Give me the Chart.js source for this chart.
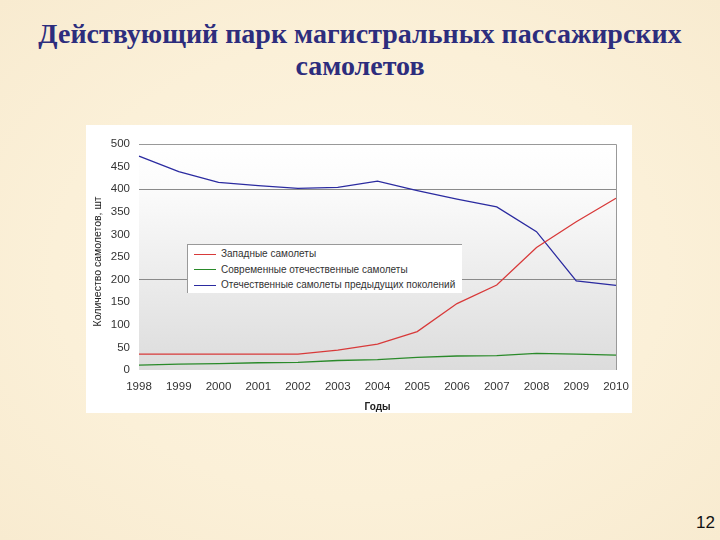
<!DOCTYPE html>
<html>
<head>
<meta charset="utf-8">
<script src="https://cdn.jsdelivr.net/npm/chart.js@4"></script>
<style>
  html, body { margin: 0; padding: 0; }
  body {
    width: 720px; height: 540px; position: relative; overflow: hidden;
    background: radial-gradient(ellipse at 50% 50%, #fdf4e0 0%, #fbf0d8 60%, #f8ebd0 100%);
    font-family: "Liberation Sans", Arial, sans-serif;
  }
  #title {
    position: absolute; left: 0; top: 18px; width: 720px; text-align: center;
    font-family: "Liberation Serif", "Times New Roman", serif; font-weight: bold;
    font-size: 28px; line-height: 32px; color: #2d2d7d;
  }
  #panel {
    position: absolute; left: 86px; top: 125px; width: 546px; height: 288px; background: #fff;
  }
  #legend {
    position: absolute; left: 101px; top: 119px; width: 274px; height: 48px;
    background: #fff; border-top: 1px solid #999; border-left: 1px solid #999;
    font-size: 10px; color: #333;
  }
  .item { position: absolute; left: 6px; height: 14px; line-height: 14px; white-space: nowrap; }
  .item span.swatch { display: inline-block; width: 22px; height: 0; border-top: 1px solid; vertical-align: middle; margin-right: 5px; }
  #page { position: absolute; left: 696px; top: 513px; font-size: 17px; color: #111; }
</style>
</head>
<body>
<div id="title">Действующий парк магистральных пассажирских<br>самолетов</div>
<div id="panel">
  <canvas id="chart" width="546" height="288"></canvas>
  <div id="legend"></div>
</div>
<div id="page">12</div>
<script>
const years = ['1998', '1999', '2000', '2001', '2002', '2003', '2004', '2005', '2006', '2007', '2008', '2009', '2010'];
const westernPlanes = [35, 35, 35, 35, 35, 44, 57, 85, 147, 188, 271, 328, 380];
const modernDomestic = [11, 13, 14, 16, 17, 21, 23, 28, 31, 32, 37, 35, 33];
const oldDomestic = [473, 439, 415, 408, 402, 404, 418, 397, 378, 361, 306, 197, 187];
const seriesNames = ['Западные  самолеты', 'Современные отечественные самолеты', 'Отечественные самолеты предыдущих поколений'];
const seriesColors = ['#d83a3a', '#2a8a2a', '#2b2ba0'];

// plot background gradient + frame
const plotFrame = {
  id: 'plotFrame',
  beforeDraw(chart) {
    const { ctx, chartArea: a } = chart;
    const g = ctx.createLinearGradient(0, a.top, 0, a.bottom);
    g.addColorStop(0, '#ffffff');
    g.addColorStop(0.2, '#fbfbfb');
    g.addColorStop(1, '#dcdcdc');
    ctx.save();
    ctx.fillStyle = g;
    ctx.fillRect(a.left, a.top, a.right - a.left, a.bottom - a.top);
    ctx.restore();
  },
  afterDatasetsDraw(chart) {
    const { ctx, chartArea: a } = chart;
    ctx.save();
    ctx.strokeStyle = '#999';
    ctx.lineWidth = 1;
    ctx.beginPath();
    ctx.moveTo(a.left, a.top + 0.5);
    ctx.lineTo(a.right + 0.5, a.top + 0.5);
    ctx.lineTo(a.right + 0.5, a.bottom);
    ctx.stroke();
    ctx.restore();
  }
};

const chart = new Chart(document.getElementById('chart'), {
  type: 'line',
  data: {
    labels: years,
    datasets: [
      { label: seriesNames[0], data: westernPlanes, borderColor: seriesColors[0] },
      { label: seriesNames[1], data: modernDomestic, borderColor: seriesColors[1] },
      { label: seriesNames[2], data: oldDomestic, borderColor: seriesColors[2] }
    ].map(d => Object.assign(d, { borderWidth: 1.3, pointRadius: 0, tension: 0, fill: false }))
  },
  options: {
    responsive: false,
    animation: false,
    layout: { padding: { top: 19, right: 16, left: 0, bottom: 0 } },
    plugins: { legend: { display: false }, tooltip: { enabled: false } },
    scales: {
      x: {
        offset: false,
        grid: { display: false, drawTicks: false },
        border: { display: false },
        ticks: { color: '#333', font: { family: 'Liberation Sans', size: 11.5 }, padding: 10, maxRotation: 0, autoSkip: false },
        title: { display: true, text: 'Годы', color: '#222', font: { family: 'Liberation Sans', size: 10, weight: 'bold' }, padding: { top: 2, bottom: 0 } },
        afterFit(scale) { scale.height = 43; scale.paddingLeft = 0; scale.paddingRight = 0; }
      },
      y: {
        min: 0, max: 500,
        grid: {
          drawTicks: false,
          color: ctx => (ctx.tick && ctx.tick.value > 0 && ctx.tick.value < 500 && ctx.tick.value % 200 === 0) ? '#8a8a8a' : 'rgba(0,0,0,0)'
        },
        border: { display: false },
        ticks: { stepSize: 50, color: '#333', font: { family: 'Liberation Sans', size: 11.5 }, padding: 9 },
        title: { display: true, text: 'Количество самолетов, шт\u00a0\u00a0\u00a0', color: '#1a1a1a', font: { family: 'Liberation Sans', size: 10.5 }, padding: { top: 6, bottom: 4 } },
        afterFit(scale) { scale.width = 53; }
      }
    }
  },
  plugins: [plotFrame]
});

// legend box over the plot, built from the datasets
const legend = document.getElementById('legend');
chart.data.datasets.forEach((ds, i) => {
  const row = document.createElement('div');
  row.className = 'item';
  row.style.top = (2 + i * 15.5) + 'px';
  row.innerHTML = '<span class="swatch" style="border-color:' + ds.borderColor + '"></span>' + ds.label;
  legend.appendChild(row);
});
</script>
</body>
</html>
